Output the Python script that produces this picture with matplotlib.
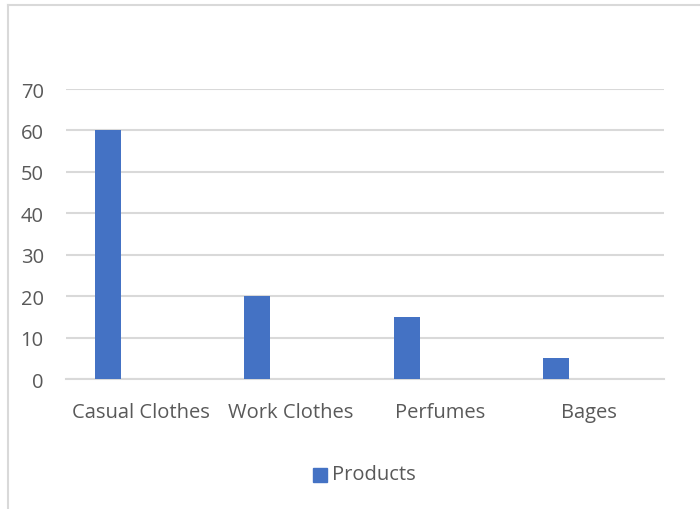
import matplotlib
matplotlib.use("Agg")
import matplotlib.pyplot as plt
from matplotlib.lines import Line2D
from matplotlib.patches import Rectangle
import numpy as np

categories = ["Casual Clothes", "Work Clothes", "Perfumes", "Bages"]
products = [60, 20, 15, 5]
yticks = [0, 10, 20, 30, 40, 50, 60, 70]
series_name = "Products"

bar_color = "#4472C4"
grid_color = "#D9D9D9"
text_color = "#595959"
font = ["Open Sans", "DejaVu Sans"]
fsize = 14.5

W, H = 700, 510
fig = plt.figure(figsize=(W / 100, H / 100), dpi=100)

# chart frame (left and top edges visible)
fig.add_artist(Line2D([8 / W, 8 / W], [0, 1 - 6 / H], transform=fig.transFigure,
                      color=grid_color, lw=1.5))
fig.add_artist(Line2D([8 / W, 1], [1 - 6 / H, 1 - 6 / H], transform=fig.transFigure,
                      color=grid_color, lw=1.5))

ax = fig.add_axes([66 / W, 1 - 380 / H, (664 - 66) / W, (380 - 90) / H])
x = np.arange(len(categories))
ax.bar(x - 0.22, products, width=0.174, color=bar_color, zorder=3)

ax.set_xlim(-0.5, len(categories) - 0.5)
ax.set_ylim(0, 70)
ax.set_yticks(yticks)
ax.set_yticklabels([str(v) for v in yticks])
ax.set_xticks(x)
ax.set_xticklabels(categories)
ax.yaxis.grid(True, color=grid_color, lw=1.5, zorder=0)
ax.set_axisbelow(True)
for s in ["top", "right", "left"]:
    ax.spines[s].set_visible(False)
ax.spines["bottom"].set_color(grid_color)
ax.spines["bottom"].set_linewidth(1.5)
ax.tick_params(axis="both", length=0, labelcolor=text_color, labelsize=fsize)
ax.tick_params(axis="y", pad=16)
ax.tick_params(axis="x", pad=16.5)
for lbl in ax.get_xticklabels() + ax.get_yticklabels():
    lbl.set_family(font)

# legend
fig.add_artist(Rectangle((313 / W, 1 - 483 / H), 14 / W, 14 / H,
                         transform=fig.transFigure, color=bar_color))
fig.text(332 / W, 1 - 475 / H, series_name, color=text_color, fontsize=fsize,
         family=font, va="center", ha="left")

fig.savefig("out.png", dpi=100, facecolor="white")
